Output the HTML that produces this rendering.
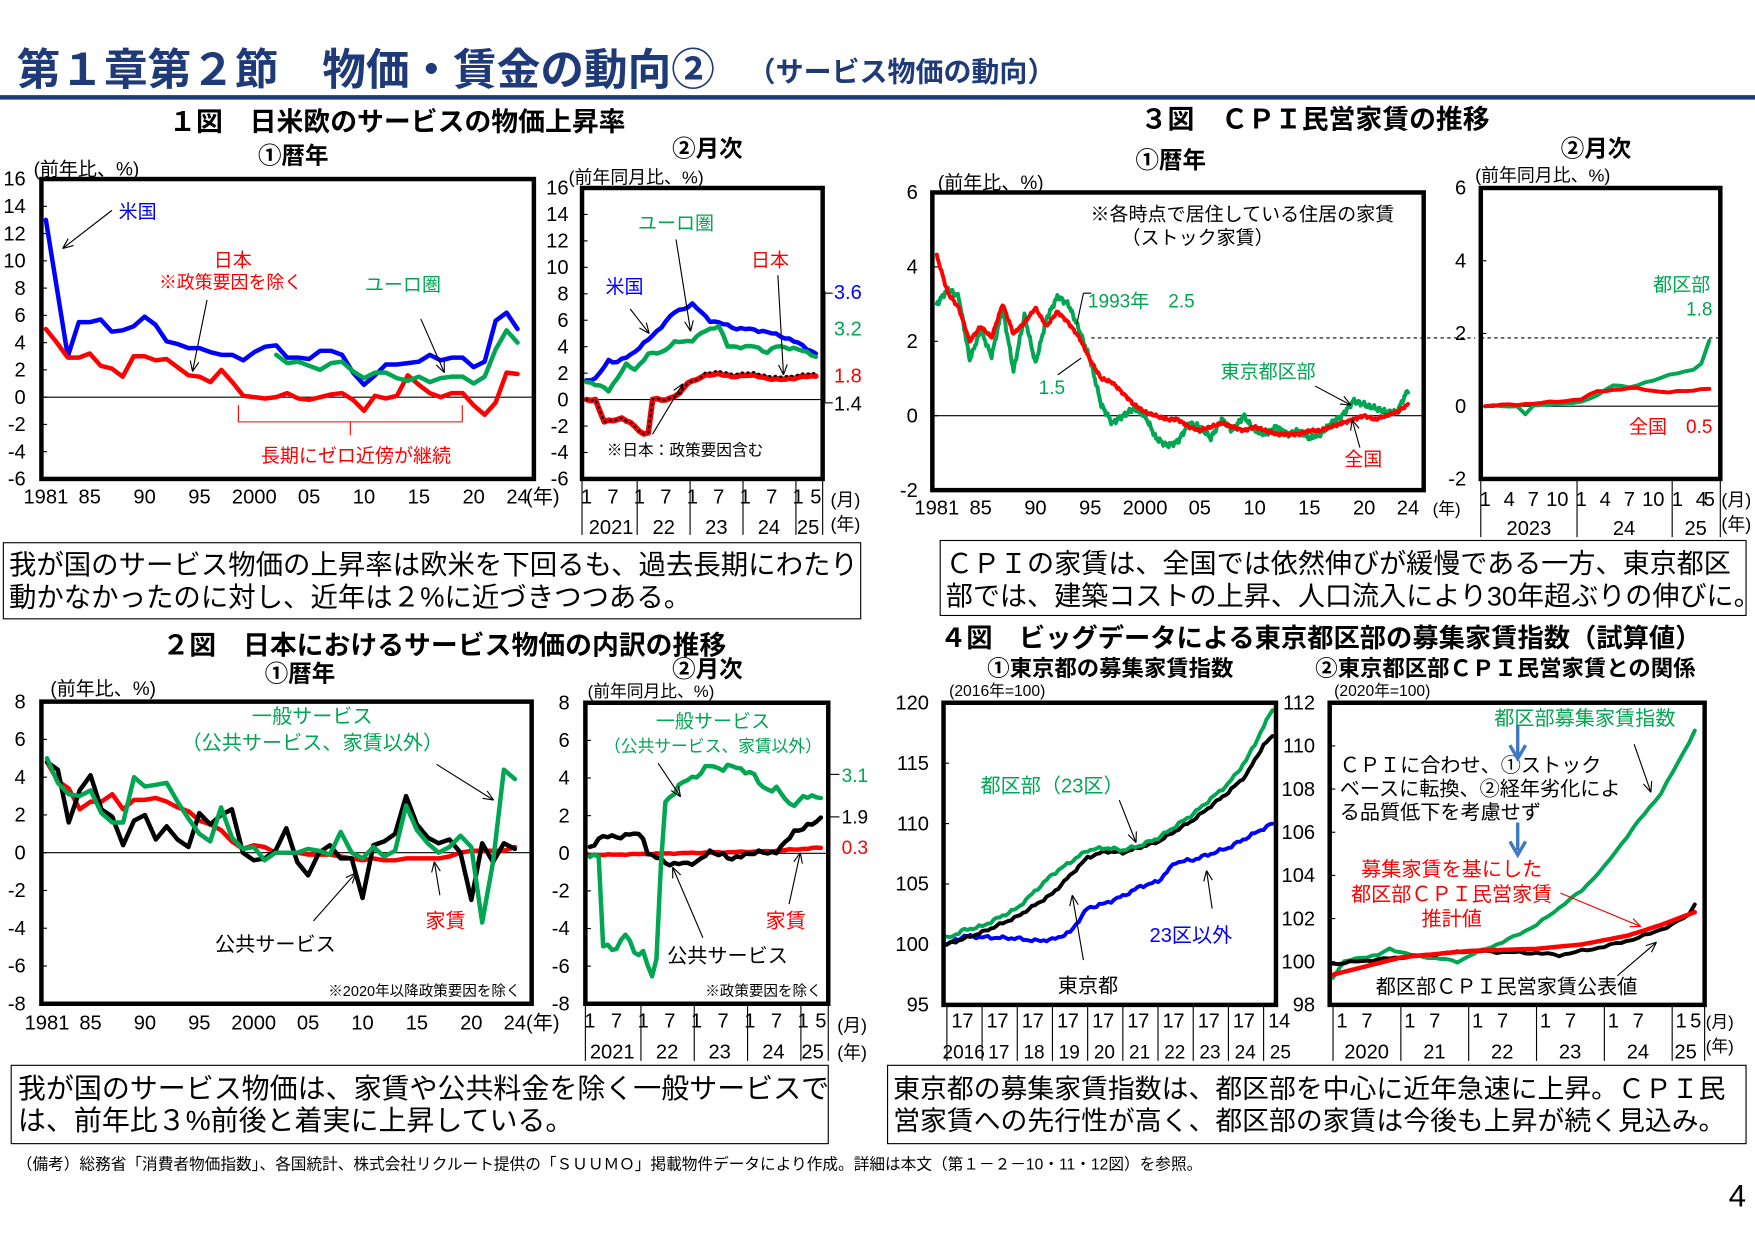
<!DOCTYPE html>
<html><head><meta charset="utf-8">
<style>
html,body{margin:0;padding:0;background:#fff;}
svg{display:block;}
text{font-family:"Liberation Sans","Noto Sans CJK JP",sans-serif;}
</style></head>
<body>
<svg id="s" width="1755" height="1241" viewBox="0 0 1568 1109" preserveAspectRatio="none" xmlns="http://www.w3.org/2000/svg"></svg>
<script>
const NS='http://www.w3.org/2000/svg';const svg=document.getElementById('s');
function el(t,a,tx){const e=document.createElementNS(NS,t);for(const k in a)e.setAttribute(k,a[k]);if(tx!==undefined)e.textContent=tx;svg.appendChild(e);return e;}
function T(x,y,s,sz,c,anc,w){return el('text',{x:x,y:y,'font-size':sz||17,fill:c||'#000','text-anchor':anc||'start','font-weight':w||'normal'},s);}
function L(x1,y1,x2,y2,c,w,d){const a={x1,y1,x2,y2,stroke:c||'#000','stroke-width':w||1};if(d)a['stroke-dasharray']=d;el('line',a);}
function A(x1,y1,x2,y2,c){L(x1,y1,x2,y2,c||'#000',1);const an=Math.atan2(y2-y1,x2-x1),h=10;
 L(x2,y2,x2-h*Math.cos(an-0.4),y2-h*Math.sin(an-0.4),c||'#000',1);L(x2,y2,x2-h*Math.cos(an+0.4),y2-h*Math.sin(an+0.4),c||'#000',1);}
function P(pts,c,w,d){const a={points:pts.map(p=>p[0].toFixed(1)+','+p[1].toFixed(1)).join(' '),fill:'none',stroke:c,'stroke-width':w||4,'stroke-linejoin':'round','stroke-linecap':'round'};if(d)a['stroke-dasharray']=d;el('polyline',a);}
function interp(keys,n,amp,seed){const r=[];for(let i=0;i<n;i++){let k=0;while(k<keys.length-2&&keys[k+1][0]<i)k++;const[a,va]=keys[k],[b,vb]=keys[k+1];let t=(i-a)/(b-a);t=Math.max(0,Math.min(1,t));let v=va+(vb-va)*t;if(amp)v+=amp*Math.sin(i*1.7+seed)*Math.cos(i*0.6+seed*2);r.push(v);}return r;}
function box(b){el('rect',{x:b.l,y:b.t,width:b.r-b.l,height:b.b-b.t,fill:'none',stroke:'#000','stroke-width':4});}
function yax(b,vmin,vmax,step,x,anc,skip){for(let v=vmin;v<=vmax+1e-9;v+=step){const y=b.b-(v-vmin)/(vmax-vmin)*(b.b-b.t);if(v>vmin&&v<vmax)L(b.l,y,b.l+5,y,'#000',1);if(!skip)T(x,y+6,(v<0?'-':'')+Math.abs(v),18,'#000',anc||'end');}}
function mk(b,vmin,vmax,x0,dx){return arr=>arr.map((v,i)=>[x0+i*dx,b.b-(v-vmin)/(vmax-vmin)*(b.b-b.t)]);}

/* Header */
T(15,76,'第１章第２節　物価・賃金の動向②',39,'#1f3a78','start','bold');
T(668,73,'（サービス物価の動向）',25,'#1f3a78','start','bold');
el('rect',{x:0,y:85,width:1568,height:4,fill:'#1f3a78'});

/* ===== Chart 1 ① ===== */
T(355,117,'１図　日米欧のサービスの物価上昇率',24,'#000','middle','bold');
T(262,146,'①暦年',21,'#000','middle','bold');
let b={l:37,t:160,r:477,b:428};
T(30,157,'(前年比、%)',17);
yax(b,-6,16,2,23);
let zy=b.b-6/22*(b.b-b.t);L(b.l,zy,b.r,zy,'#000',1);
let f=mk(b,-6,16,41,9.8);
const us=[13,8,3,5.5,5.5,5.7,4.8,4.9,5.2,5.9,5.3,4.1,3.9,3.6,3.6,3.3,3.1,3.1,2.7,3.3,3.7,3.8,2.9,2.9,2.8,3.4,3.4,3.1,1.8,0.9,1.6,2.4,2.4,2.5,2.6,3.1,2.7,2.9,2.9,2.2,2.6,5.6,6.2,5.0];
const jp=[5,4,2.9,2.9,3.2,2.3,2.1,1.5,3,3,2.7,2.8,2.2,1.6,1.5,1.1,2,1.1,0.1,0,-0.1,0,0.3,-0.1,-0.2,0,0.2,0.3,-0.2,-1,0.1,-0.1,0.1,1.6,0.9,0.3,0,0.3,0.3,-0.6,-1.3,-0.4,1.8,1.7];
const eu=[3.1,2.5,2.6,2.3,2.0,2.5,2.6,1.9,1.4,1.8,1.8,1.4,1.2,1.5,1.1,1.4,1.5,1.5,1.0,1.5,3.5,4.9,4.0];
P(f(us),'#0000ff',4);P(f(jp),'#ff0000',4);
P(f(eu).map(p=>[p[0]+21*9.8,p[1]]),'#00a651',4);
box(b);
const x1=['1981','85','90','95','2000','05','10','15','20','24'],xi=[0,4,9,14,19,24,29,34,39,43];
x1.forEach((s,i)=>T(41+xi[i]*9.8,450,s,18,'#000','middle'));T(470,450,'(年)',18);
T(106,195,'米国',17,'#0000ff');A(100,188,56,222);
T(208,238,'日本',17,'#ff0000','middle');T(206,258,'※政策要因を除く',16,'#ff0000','middle');A(185,268,172,332);
T(360,260,'ユーロ圏',17,'#00a651','middle');A(376,285,397,333);
el('path',{d:'M213,362 v15 h100 v12 m0,-12 h100 v-15',fill:'none',stroke:'#ff0000','stroke-width':1});
T(318,413,'長期にゼロ近傍が継続',17,'#ff0000','middle');

/* ===== Chart 1 ② ===== */
T(632,140,'②月次',21,'#000','middle','bold');
b={l:520,t:168,r:735,b:428};
T(508,164,'(前年同月比、%)',16);
yax(b,-6,16,2,508);
zy=b.b-6/22*(b.b-b.t);L(b.l,zy,b.r,zy,'#000',1);
f=mk(b,-6,16,524,3.94);
const usm=interp([[0,1.5],[2,1.5],[5,3],[7,2.8],[10,3.4],[14,4.5],[20,6.6],[24,7.2],[28,6],[34,5.4],[40,5.2],[46,4.6],[52,3.5]],53,0.12,1);
const eum=interp([[0,1.4],[3,1],[5,0.7],[9,2.6],[11,2.3],[14,3.4],[17,3.6],[20,4.3],[24,4.5],[27,5.2],[30,5.6],[32,4],[38,4],[41,3.6],[43,4],[47,3.9],[52,3.3]],53,0.12,2);
const jpm=interp([[0,0],[2,0],[4,-1.7],[8,-1.4],[10,-1.8],[13,-2.6],[14,-2.5],[15,0],[18,0],[21,0.4],[23,1.3],[27,1.8],[30,2],[33,1.7],[36,1.9],[40,1.7],[44,1.5],[48,1.7],[52,1.8]],53,0.08,3);
P(f(usm),'#0000ff',4);P(f(eum),'#00a651',4);P(f(jpm),'#ff0000',5);P(f(jpm.map((v,i)=>i>26?v+0.2:v)),'#000',2,'1,4');
box(b);
for(let i=0;i<=4;i++){const x=524+i*12*3.94;if(i>0)L(x-2,b.b,x-2,478,'#000',1);}L(735,b.b,735,478,'#000',1);L(520,b.b,520,478,'#000',1);
[['1',0],['7',6],['1',12],['7',18],['1',24],['7',30],['1',36],['7',42],['1',48],['5',52]].forEach(a=>T(524+a[1]*3.94,450,a[0],18,'#000','middle'));
[['2021',546],['22',593],['23',640],['24',687],['25',722]].forEach(a=>T(a[1],477,a[0],18,'#000','middle'));
T(742,452,'(月)',16);T(742,474,'(年)',16);
T(604,205,'ユーロ圏',17,'#00a651','middle');A(604,214,617,296);
T(558,262,'米国',17,'#0000ff','middle');A(563,276,580,298);
T(688,238,'日本',17,'#ff0000','middle');A(695,246,700,335);
T(612,407,'※日本：政策要因含む',14,'#000','middle');A(583,388,610,343);
T(745,267,'3.6',18,'#0000ff');T(745,300,'3.2',18,'#00a651');T(745,342,'1.8',18,'#ff0000');T(745,367,'1.4',18,'#000');
L(737,260,737,360,'#000',1);L(737,262,744,262,'#000',1);L(737,360,744,360,'#000',1);

/* text box 1 */
el('rect',{x:3,y:485,width:766,height:68,fill:'none',stroke:'#000','stroke-width':1});
T(8,513,'我が国のサービス物価の上昇率は欧米を下回るも、過去長期にわたり',24.5);
T(8,542,'動かなかったのに対し、近年は２%に近づきつつある。',24.5);

/* ===== Chart 3 ① ===== */
T(1175,115,'３図　ＣＰＩ民営家賃の推移',24,'#000','middle','bold');
T(1046,150,'①暦年',21,'#000','middle','bold');
b={l:833,t:172,r:1272,b:438};
T(838,169,'(前年比、%)',17);
yax(b,-2,6,2,820);
zy=b.b-2/8*(b.b-b.t);L(b.l,zy,b.r,zy,'#000',1);
L(975,302,1318,302,'#000',1,'3,3');L(1323,302,1537,302,'#000',1,'3,3');
f=mk(b,-2,6,837,9.79/12);
function yrToMon(vals,amp,seed){const keys=vals.map((v,i)=>[i*12,v]);return interp(keys,(vals.length-1)*12+1,amp,seed);}
const rj=[4.3,3.3,2.9,2,2.4,2.1,3,2.2,2.5,2.9,2.4,2.8,2.5,2.1,1.5,1.0,0.9,0.6,0.3,0.1,0,-0.1,-0.1,-0.3,-0.4,-0.3,-0.2,-0.3,-0.4,-0.3,-0.4,-0.5,-0.5,-0.5,-0.4,-0.4,-0.3,-0.2,-0.1,0,-0.1,0,0.1,0.3];
const rt=[3,3.4,3.2,1.5,2.3,1.6,2.9,1.2,2.7,1.4,2.6,3.2,3,2.3,1.5,0.3,-0.2,0,0.2,0,-0.6,-0.8,-0.7,-0.2,-0.3,-0.6,-0.1,-0.4,0,-0.4,-0.5,-0.3,-0.5,-0.4,-0.6,-0.5,-0.2,0,0.4,0.3,0.2,0.1,0.1,0.7];
P(f(yrToMon(rt,0.08,4)),'#00a651',3.5);P(f(yrToMon(rj,0.04,5)),'#ff0000',3.5);
box(b);
[['1981',0],['85',4],['90',9],['95',14],['2000',19],['05',24],['10',29],['15',34],['20',39],['24',43]].forEach(a=>T(837+a[1]*9.79,460,a[0],18,'#000','middle'));
T(1280,460,'(年)',15);
T(1110,197,'※各時点で居住している住居の家賃',17,'#000','middle');T(1070,218,'（ストック家賃）',17,'#000','middle');
T(972,275,'1993年　2.5',17,'#00a651');L(968,262,962,290,'#000',1);L(968,262,975,262,'#000',1);
T(928,352,'1.5',17,'#00a651');L(945,335,966,320,'#000',1);
T(1133,338,'東京都区部',17,'#00a651','middle');A(1175,345,1207,362);
T(1218,416,'全国',17,'#ff0000','middle');A(1215,400,1208,375);

/* ===== Chart 3 ② ===== */
T(1426,140,'②月次',21,'#000','middle','bold');
b={l:1323,t:168,r:1537,b:428};
T(1318,162,'(前年同月比、%)',16);
yax(b,-2,6,2,1310);
zy=b.b-2/8*(b.b-b.t);L(b.l,zy,b.r,zy,'#000',1);
f=mk(b,-2,6,1327,7.15);
const g3=interp([[0,0],[4,0],[5,-0.2],[6,0],[10,0.1],[12,0.1],[14,0.3],[16,0.6],[18,0.5],[22,0.8],[24,0.9],[26,1.0],[27,1.2],[28,1.8],[28.9,1.8]],29,0.03,6);
const r3=interp([[0,0],[8,0.1],[12,0.2],[14,0.4],[18,0.5],[22,0.4],[25,0.4],[28,0.5]],29,0.03,7);
P(f(g3),'#00a651',3.5);P(f(r3),'#ff0000',3.5);
box(b);
[['1',0],['4',3],['7',6],['10',9],['1',12],['4',15],['7',18],['10',21],['1',24],['4',27],['5',28]].forEach(a=>T(1327+a[1]*7.15,452,a[0],18,'#000','middle'));
L(1323,b.b,1323,480,'#000',1);L(1409,b.b,1409,480,'#000',1);L(1494,b.b,1494,480,'#000',1);L(1537,b.b,1537,480,'#000',1);
T(1366,478,'2023',18,'#000','middle');T(1451,478,'24',18,'#000','middle');T(1515,478,'25',18,'#000','middle');
T(1538,452,'(月)',16);T(1538,474,'(年)',16);
T(1528,260,'都区部',17,'#00a651','end');T(1530,282,'1.8',17,'#00a651','end');
T(1530,387,'全国　0.5',17,'#ff0000','end');

/* text box 3 */
el('rect',{x:840,y:483,width:720,height:67,fill:'none',stroke:'#000','stroke-width':1});
T(845,512,'ＣＰＩの家賃は、全国では依然伸びが緩慢である一方、東京都区',24.2);
T(845,541,'部では、建築コストの上昇、人口流入により30年超ぶりの伸びに。',24.2);

/* ===== Chart 2 ① ===== */
T(397,585,'２図　日本におけるサービス物価の内訳の推移',24,'#000','middle','bold');
T(268,609,'①暦年',21,'#000','middle','bold');
b={l:37,t:627,r:475,b:897};
T(45,621,'(前年比、%)',17);
yax(b,-8,8,2,23);
zy=b.b-8/16*(b.b-b.t);L(b.l,zy,b.r,zy,'#000',1);
f=mk(b,-8,8,42,9.72);
const g2=[5,3.7,3.1,3,3.3,2.1,1.6,1.6,4,3.5,3.6,3.7,2.7,1.8,1,0.6,2.4,0.8,0.2,0.3,-0.4,0,0,0,0.2,0.1,-0.1,1.1,0,-0.3,0.3,-0.2,0.1,2.5,1.2,0.5,0,0.3,0.9,0.3,-3.7,-0.5,4.4,3.9];
const k2=[4.8,4.4,1.6,3.3,4.1,2.3,1.9,0.4,1.7,2,0.7,1.4,0.7,0.3,2.1,1.5,2,2.3,0,-0.4,-0.3,0.1,1.3,-0.5,-1.2,0,0.4,-0.3,-0.3,-2.4,0.4,0.6,1,3,1.5,0.8,0.5,0.7,0,-2.5,0.5,-0.5,0.5,0.2];
const r2=[4.8,3.8,3.4,2.3,2.7,2.7,3.1,2.3,2.8,2.8,2.9,2.7,2.4,2.2,1.7,1.5,1.2,0.6,0.2,0.4,0.3,0,0,0,-0.1,-0.1,-0.1,-0.2,-0.3,-0.4,-0.3,-0.4,-0.4,-0.3,-0.3,-0.3,-0.3,-0.2,0,0.1,0.1,0.1,0.1,0.3];
P(f(r2),'#ff0000',4);P(f(k2),'#000',4);P(f(g2),'#00a651',4);
box(b);
x1.forEach((s,i)=>T(42+xi[i]*9.72,920,s,18,'#000','middle'));T(470,920,'(年)',18);
T(279,646,'一般サービス',18,'#00a651','middle');T(279,670,'（公共サービス、家賃以外）',18,'#00a651','middle');A(390,683,441,715);
T(398,829,'家賃',18,'#ff0000','middle');A(393,800,388,770);
T(246,850,'公共サービス',18,'#000','middle');A(280,823,318,780);
T(465,890,'※2020年以降政策要因を除く',13,'#000','end');

/* ===== Chart 2 ② ===== */
T(632,605,'②月次',21,'#000','middle','bold');
b={l:523,t:628,r:740,b:897};
T(525,623,'(前年同月比、%)',15);
yax(b,-8,8,2,509);
zy=b.b-8/16*(b.b-b.t);L(b.l,zy,b.r,zy,'#000',1);
f=mk(b,-8,8,527,3.97);
const g2m=interp([[0,0],[2,-0.2],[3,-5],[6,-5],[8,-4.3],[10,-5.3],[12,-5.2],[14,-6.6],[15,-5.8],[16,-0.5],[17,2.8],[19,3.2],[22,4],[25,4.2],[27,4.7],[30,4.5],[33,4.6],[36,4.3],[39,3.5],[42,3.4],[45,2.6],[48,2.9],[52,3.1]],53,0.2,8);
const k2m=interp([[0,0.3],[2,0.8],[6,0.9],[10,1],[12,0.9],[13,0],[17,-0.5],[22,-0.6],[24,-0.4],[27,0],[30,0],[32,-0.4],[35,0],[38,0],[42,0.1],[44,0.5],[46,1.2],[50,1.5],[52,1.9]],53,0.15,9);
const r2m=interp([[0,-0.1],[20,0],[40,0.1],[52,0.3]],53,0.03,10);
P(f(r2m),'#ff0000',4);P(f(k2m),'#000',4);P(f(g2m),'#00a651',4);
box(b);
L(523,b.b,523,948,'#000',1);
for(let i=1;i<=4;i++){const x=525+i*12*3.97;L(x,b.b,x,948,'#000',1);}L(740,b.b,740,948,'#000',1);
[['1',0],['7',6],['1',12],['7',18],['1',24],['7',30],['1',36],['7',42],['1',48],['5',52]].forEach(a=>T(527+a[1]*3.97,918,a[0],18,'#000','middle'));
[['2021',547],['22',596],['23',643],['24',691],['25',726]].forEach(a=>T(a[1],946,a[0],18,'#000','middle'));
T(748,922,'(月)',16);T(748,946,'(年)',16);
T(637,650,'一般サービス',17,'#00a651','middle');T(637,672,'（公共サービス、家賃以外）',15,'#00a651','middle');A(588,682,608,712);
T(702,829,'家賃',18,'#ff0000','middle');A(705,808,715,762);
T(650,860,'公共サービス',18,'#000','middle');A(628,838,601,775);
T(734,890,'※政策要因を除く',13,'#000','end');
T(752,699,'3.1',17,'#00a651');T(752,736,'1.9',17,'#000');T(752,763,'0.3',17,'#ff0000');
L(742,692,750,692,'#000',1);L(742,730,750,730,'#000',1);

/* text box 2 */
el('rect',{x:10,y:952,width:730,height:70,fill:'none',stroke:'#000','stroke-width':1});
T(16,981,'我が国のサービス物価は、家賃や公共料金を除く一般サービスで',25);
T(16,1010,'は、前年比３%前後と着実に上昇している。',25);

/* ===== Chart 4 ===== */
T(1180,578,'４図　ビッグデータによる東京都区部の募集家賃指数（試算値）',23.5,'#000','middle','bold');
T(992,604,'①東京都の募集家賃指数',20,'#000','middle','bold');
T(1345,604,'②東京都区部ＣＰＩ民営家賃との関係',20,'#000','middle','bold');
b={l:843,t:628,r:1140,b:898};
T(848,622,'(2016年=100)',14);
yax(b,95,120,5,830);
f=mk(b,95,120,846,2.62);
const tg=interp([[0,100.5],[6,101.2],[12,101.5],[24,103],[36,105.8],[48,107.8],[54,108],[60,107.8],[66,108.2],[72,108.8],[84,110.8],[96,113.3],[102,115.2],[108,118],[111,119.5]],112,0.15,11);
const tb=interp([[0,100],[12,101],[24,102.3],[36,104.2],[48,107.2],[54,107.7],[60,107.6],[72,108.5],[84,110.3],[96,112.6],[102,114],[108,116.5],[111,117.2]],112,0.12,12);
const tu=interp([[0,100],[6,100.7],[12,100.6],[24,100.5],[30,100.3],[36,100.4],[42,101],[48,103],[54,103.4],[60,104],[66,104.8],[72,105.2],[78,106.8],[84,107],[96,108],[111,110]],112,0.15,13);
P(f(tu),'#0000ff',3.5);P(f(tb),'#000',3.5);P(f(tg),'#00a651',3.5);
box(b);
for(let i=0;i<=9;i++){const x=846+i*12*2.62;L(x,b.b,x,948,'#000',1);T(x+4,918,'1',18,'#000','start');T(x+6*2.62+3,918,i==9?'4':'7',18,'#000','middle');}
['2016','17','18','19','20','21','22','23','24','25'].forEach((s,i)=>T(846+i*12*2.62+15,946,s,17,'#000','middle'));
T(940,708,'都区部（23区）',18,'#00a651','middle');A(1000,715,1015,753);
T(1064,842,'23区以外',18,'#0000ff','middle');A(1083,812,1078,778);
T(972,887,'東京都',18,'#000','middle');A(968,858,958,800);

b={l:1188,t:628,r:1523,b:898};
T(1192,622,'(2020年=100)',14);
yax(b,98,112,2,1175);
f=mk(b,98,112,1191,5.05);
const cg=interp([[0,99.3],[2,100],[5,100.2],[8,100.3],[10,100.6],[14,100.3],[20,100.1],[22,100],[26,100.5],[30,100.9],[36,101.7],[40,102.5],[44,103.3],[48,104.4],[54,106.5],[58,107.8],[61,109.2],[64,110.7]],65,0.05,14);
const cb=interp([[0,99.9],[12,100.2],[24,100.5],[36,100.4],[40,100.3],[48,100.7],[54,101.1],[60,101.7],[63,102.2],[64,102.7]],65,0.06,15);
const cr=interp([[0,99.4],[6,99.8],[12,100.2],[24,100.5],[36,100.6],[44,100.8],[52,101.2],[58,101.7],[64,102.3]],65,0,16);
P(f(cg),'#00a651',3.5);P(f(cb),'#000',3.5);P(f(cr),'#ff0000',4);
box(b);
for(let i=0;i<=5;i++){const x=1191+i*12*5.05;L(x,b.b,x,948,'#000',1);T(x+3,918,'1',18);if(i<5)T(x+6*5.05,918,'7',18,'#000','middle');}
L(1523,b.b,1523,948,'#000',1);
T(1515,918,'5',18,'#000','middle');
['2020','21','22','23','24','25'].forEach((s,i)=>T(i<5?1191+i*12*5.05+30:1506,946,s,18,'#000','middle'));
T(1524,918,'(月)',15);T(1524,940,'(年)',15);
T(1416,648,'都区部募集家賃指数',18,'#00a651','middle');A(1460,665,1475,708);
T(1197,690,'ＣＰＩに合わせ、①ストック',18);T(1197,711,'ベースに転換、②経年劣化によ',18);T(1197,732,'る品質低下を考慮せず',18);
L(1356,648,1356,675,'#3d78c4',3);el('path',{d:'M1349,666 L1356,678 L1363,666',fill:'none',stroke:'#3d78c4','stroke-width':3});
L(1356,735,1356,760,'#3d78c4',3);el('path',{d:'M1349,752 L1356,764 L1363,752',fill:'none',stroke:'#3d78c4','stroke-width':3});
T(1297,783,'募集家賃を基にした',18,'#ff0000','middle');T(1297,805,'都区部ＣＰＩ民営家賃',18,'#ff0000','middle');T(1297,827,'推計値',18,'#ff0000','middle');
A(1394,798,1466,828,'#ff0000');
T(1346,888,'都区部ＣＰＩ民営家賃公表値',18,'#000','middle');A(1445,872,1480,842);

/* text box 4 */
el('rect',{x:793,y:952,width:767,height:70,fill:'none',stroke:'#000','stroke-width':1});
T(798,981,'東京都の募集家賃指数は、都区部を中心に近年急速に上昇。ＣＰＩ民',24);
T(798,1010,'営家賃への先行性が高く、都区部の家賃は今後も上昇が続く見込み。',24);

T(15,1045,'（備考）総務省「消費者物価指数」、各国統計、株式会社リクルート提供の「ＳＵＵＭＯ」掲載物件データにより作成。詳細は本文（第１－２－10・11・12図）を参照。',14);
T(1560,1078,'4',28,'#000','end');
</script>
</body></html>
